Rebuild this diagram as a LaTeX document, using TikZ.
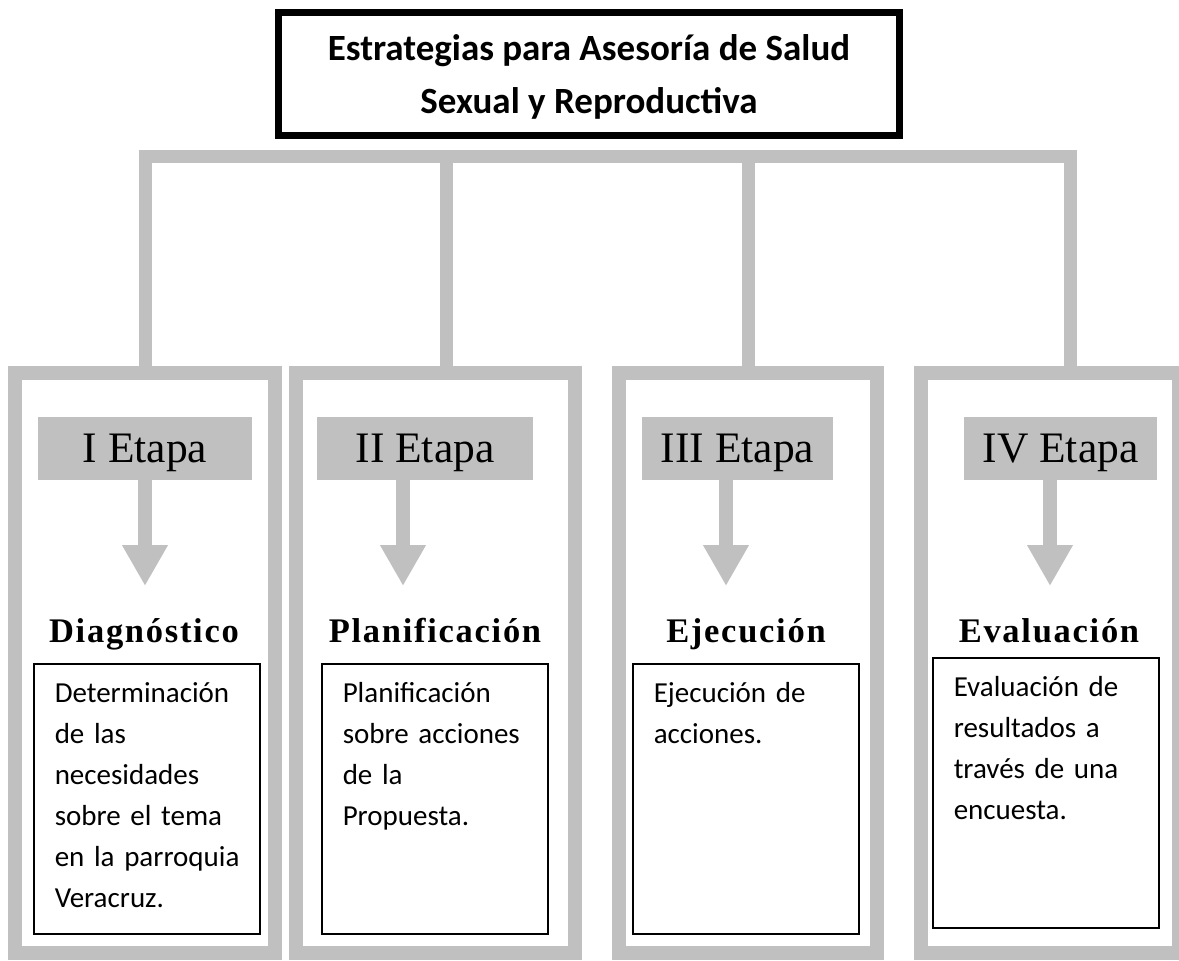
\documentclass[tikz,border=0pt]{standalone}
\usepackage{fontspec}
\setmainfont{Carlito}
\newfontfamily\etapafont{Liberation Serif}
\newfontfamily\fasefont{Liberation Serif}[LetterSpace=5]
\usepackage{tikz}
\usetikzlibrary{arrows.meta,positioning}
\definecolor{framegray}{RGB}{192,192,192}

\newcommand{\lineas}[2][l]{\begin{tabular}[t]{@{}#1@{}}#2\end{tabular}}

\begin{document}
\begin{tikzpicture}[
  x=1pt, y=-1pt,
  titlebox/.style={draw, line width=7pt, inner sep=0pt, minimum width=621pt, text height=48.5pt, text depth=74.5pt, font=\fontsize{37}{53}\selectfont\bfseries},
  column/.style={draw=framegray, line width=14pt, minimum height=580pt, inner sep=0pt},
  etapa/.style={fill=framegray, inner sep=0pt, text height=45pt, text depth=18pt, font=\etapafont\fontsize{43.5}{43.5}\selectfont},
  fase/.style={inner sep=0pt, font=\fasefont\fontsize{34.5}{34.5}\selectfont\bfseries},
  note/.style={draw, line width=1.5pt, inner xsep=21pt, inner ysep=0pt, text width=184pt, text height=39pt, text depth=231pt, font=\fontsize{29}{41}\selectfont},
  bar/.style={draw=framegray, line width=13pt},
  flow/.style={draw=framegray, line width=14pt, -{Triangle[width=43pt, length=41pt]}}
]
\useasboundingbox (0,0) rectangle (1179,961);

\node[titlebox, anchor=north] (title) at (589,8.5) {\lineas[c]{Estrategias para Asesoría de Salud\\Sexual y Reproductiva}};

\node[column, minimum width=260pt] (col1) at (145,663) {};
\node[column, minimum width=279pt] (col2) at (435.5,663) {};
\node[column, minimum width=258pt] (col3) at (748,663) {};
\node[column, minimum width=258pt] (col4) at (1050,663) {};

\coordinate (b1) at (145,156.5);
\coordinate (b2) at (446,156.5);
\coordinate (b3) at (748,156.5);
\coordinate (b4) at (1070,156.5);

\node[etapa, anchor=north, minimum width=214pt] (st1) at (145,417) {I Etapa};
\node[etapa, anchor=north, minimum width=216pt] (st2) at (425,417) {II Etapa};
\node[etapa, anchor=north, minimum width=191pt] (st3) at (737.5,417) {III Etapa};
\node[etapa, anchor=north, minimum width=193pt] (st4) at (1060.5,417) {IV Etapa};

\coordinate (a1) at (145,586);
\coordinate (a2) at (403,586);
\coordinate (a3) at (726,586);
\coordinate (a4) at (1050,586);

\node[fase, anchor=base] (f1) at (144,642) {Diagnóstico};
\node[fase, anchor=base] (f2) at (435,642) {Planificación};
\node[fase, anchor=base] (f3) at (746,642) {Ejecución};
\node[fase, anchor=base] (f4) at (1049,642) {Evaluación};

\node[note, anchor=north west] (n1) at (33,663) {\lineas{Determinación\\de las\\necesidades\\sobre el tema\\en la parroquia\\Veracruz.}};
\node[note, anchor=north west] (n2) at (321,663) {\lineas{Planificación\\sobre acciones\\de la\\Propuesta.}};
\node[note, anchor=north west] (n3) at (632,663) {\lineas{Ejecución de\\acciones.}};
\node[note, anchor=north west] (n4) at (932,657) {\lineas{Evaluación de\\resultados a\\través de una\\encuesta.}};

\draw[bar] (b1 |- col1.north) -- (b1) -- (b4) -- (b4 |- col4.north);
\draw[bar] (b2) -- (b2 |- col2.north);
\draw[bar] (b3) -- (b3 |- col3.north);

\draw[flow] (st1.south -| a1) -- (a1);
\draw[flow] (st2.south -| a2) -- (a2);
\draw[flow] (st3.south -| a3) -- (a3);
\draw[flow] (st4.south -| a4) -- (a4);

\end{tikzpicture}
\end{document}
